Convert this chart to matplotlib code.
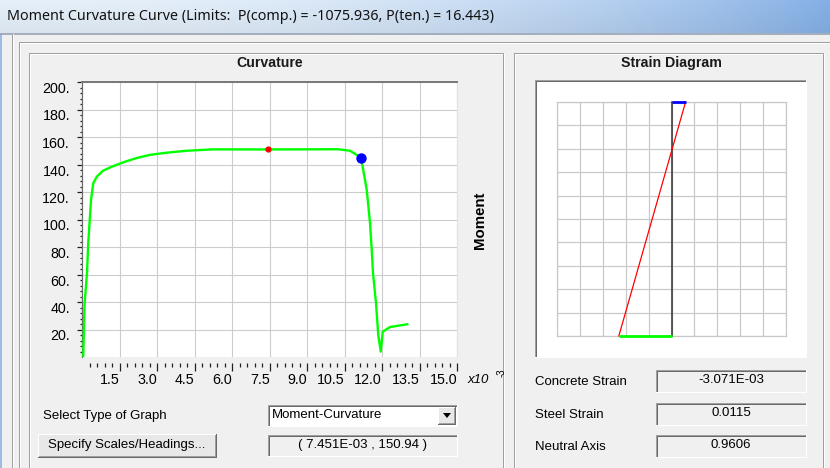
import matplotlib.pyplot as plt
import numpy as np
from matplotlib.patches import Rectangle, Polygon
from matplotlib.ticker import FixedLocator

W, H = 830, 468

# moment-curvature curve (curvature in units of 1e-3)
curvature = [0.05, 0.10, 0.20, 0.25, 0.36, 0.45, 0.59, 0.84, 1.12, 1.39, 1.72,
             2.20, 2.72, 3.39, 4.19, 5.24, 7.451, 10.24, 10.72, 11.16, 11.25,
             11.39, 11.52, 11.59, 11.64, 11.76, 11.85, 11.95, 12.03, 12.32, 13.01]
moment = [0.0, 38.0, 61.0, 83.0, 114.0, 126.3, 131.1, 135.5, 137.8, 139.8, 142.0,
          144.8, 147.0, 148.6, 150.0, 151.0, 150.94, 151.1, 150.0, 145.0, 136.0,
          121.5, 97.5, 77.8, 61.0, 39.3, 16.0, 3.9, 18.4, 21.8, 23.8]
cursor_pt = (7.451, 150.94)
current_idx = 19

x_ticks = [1.5, 3.0, 4.5, 6.0, 7.5, 9.0, 10.5, 12.0, 13.5, 15.0]
y_ticks = [20, 40, 60, 80, 100, 120, 140, 160, 180, 200]

# section strains
concrete_strain = -3.071e-3
steel_strain = 0.0115
neutral_axis = 0.9606

PX = 0.72  # one pixel in points at dpi 100
UI = 'Liberation Sans'
FS = 9.5

fig = plt.figure(figsize=(W / 100, H / 100), dpi=100, facecolor='#f0f0f0')
bg = fig.add_axes([0, 0, 1, 1])
bg.set_xlim(0, W)
bg.set_ylim(H, 0)
bg.axis('off')

# title bar
t = np.linspace(0, 1, 200) ** 2.2
rows = np.linspace(0, 1, 20)[:, None]
left = np.array([0.90, 0.94, 0.98])
right = np.array([0.52, 0.69, 0.90])
grad = left + (right - left) * t[None, :, None]
grad = grad * (1.0 - 0.05 * rows[..., None])
bg.imshow(np.clip(grad, 0, 1), extent=(0, W, 33, 0), aspect='auto',
          interpolation='bilinear', zorder=0)
bg.plot([0, W], [33.5, 33.5], color='#8a9ab0', lw=1.5 * PX)
bg.text(7, 17, 'Moment Curvature Curve (Limits:  P(comp.) = -1075.936, P(ten.) = 16.443)',
        fontsize=10.3, family='Noto Sans', va='center', ha='left', color='#111111')
bg.add_patch(Rectangle((0, 34), 2, H - 34, color='#9dbbe3', lw=0))


def etched(x0, y0, x1, y1):
    bg.add_patch(Rectangle((x0 + 1, y0 + 1), x1 - x0, y1 - y0, fill=False, ec='white', lw=PX))
    bg.add_patch(Rectangle((x0, y0), x1 - x0, y1 - y0, fill=False, ec='#a0a0a0', lw=PX))


def sunken(x0, y0, x1, y1, face):
    bg.add_patch(Rectangle((x0, y0), x1 - x0, y1 - y0, color=face, lw=0))
    bg.plot([x0, x0, x1], [y1, y0, y0], color='#a0a0a0', lw=PX)
    bg.plot([x0 + 1, x0 + 1, x1 - 1], [y1 - 1, y0 + 1, y0 + 1], color='#696969', lw=PX)
    bg.plot([x0, x1, x1], [y1, y1, y0], color='white', lw=PX)


def raised(x0, y0, x1, y1, face='#e8e8e8'):
    bg.add_patch(Rectangle((x0, y0), x1 - x0, y1 - y0, color=face, lw=0))
    bg.plot([x0, x0, x1], [y1, y0, y0], color='white', lw=PX)
    bg.plot([x0, x1, x1], [y1, y1, y0], color='#696969', lw=PX)
    bg.plot([x0 + 1, x1 - 1, x1 - 1], [y1 - 1, y1 - 1, y0 + 1], color='#a0a0a0', lw=PX)


# dialog frames
bg.plot([12, 12], [34, H], color='#a0a0a0', lw=PX)
bg.plot([13, 13], [34, H], color='white', lw=PX)
bg.plot([19, 19, W], [H, 42, 42], color='#a0a0a0', lw=PX)
bg.plot([20, 20, W], [H, 43, 43], color='white', lw=PX)
etched(29, 53, 503, H + 5)
etched(514, 53, 823, H + 5)
bg.text(270, 63, 'Curvature', fontsize=10.2, weight='bold', family=UI,
        ha='center', va='center', color='#1a1a1a')
bg.text(671, 63, 'Strain Diagram', fontsize=10.2, weight='bold', family=UI,
        ha='center', va='center', color='#1a1a1a')

# moment-curvature plot
ax = fig.add_axes([82 / W, 1 - 357 / H, 375 / W, 275 / H])
ax.set_facecolor('white')
ax.plot(curvature, moment, color='#00ff00', lw=1.7, zorder=3)
ax.plot(*cursor_pt, 'o', color='#ff0000', ms=4.5, mec='none', zorder=4)
ax.plot(curvature[current_idx], moment[current_idx], 'o', color='#0000ff',
        ms=7.5, mec='none', zorder=4)
ax.set_xlim(0, 15)
ax.set_ylim(0, 200)
ax.set_xticks(x_ticks)
ax.set_xticklabels([f'{v:.1f}' for v in x_ticks])
ax.xaxis.set_minor_locator(FixedLocator(np.arange(1, 51) * 0.3))
ax.set_yticks(y_ticks)
ax.set_yticklabels([f'{v}.' for v in y_ticks])
ax.yaxis.set_minor_locator(FixedLocator(np.arange(1, 50) * 4))
ax.grid(True, which='major', color='#cccccc', lw=1.1 * PX)
ax.set_axisbelow(True)
ax.spines['bottom'].set_position(('outward', 4.5))
ax.spines['bottom'].set_visible(False)
ax.spines['left'].set_color('#6a6a6a')
ax.spines['left'].set_linewidth(1.2 * PX)
ax.spines['top'].set_color('#7a7a7a')
ax.spines['top'].set_linewidth(2 * PX)
ax.spines['right'].set_color('#e2e2e2')
ax.tick_params(axis='x', which='major', direction='out', length=5.8, width=0.9,
               color='#222222', pad=1, labelsize=10.3, labelfontfamily=UI)
ax.tick_params(axis='x', which='minor', direction='out', length=3, width=0.9,
               color='#222222')
ax.tick_params(axis='y', which='major', direction='out', length=3.6, width=0.9,
               color='#222222', pad=5, labelsize=10.3, labelfontfamily=UI)
ax.tick_params(axis='y', which='minor', direction='out', length=1.8, width=0.9,
               color='#222222')
for lbl in ax.get_xticklabels():
    lbl.set_horizontalalignment('right')
for lbl in ax.get_yticklabels():
    lbl.set_verticalalignment('top')

bg.text(468, 380, 'x10', fontsize=9.5, style='italic', family=UI, ha='left', va='center')
bg.text(502, 373, '-3', fontsize=7, family=UI, rotation=90, ha='center', va='center')
bg.text(480, 220, 'Moment', fontsize=10.8, weight='bold', family=UI, rotation=90,
        ha='center', va='center')

# strain diagram
sunken(535, 80, 806, 357, 'white')
depth = neutral_axis * (steel_strain - concrete_strain) / (-concrete_strain)
sx = fig.add_axes([557 / W, 1 - 336 / H, 229 / W, 234 / H])
sx.set_facecolor('white')
sx.set_xlim(-0.025, 0.025)
sx.set_ylim(0, depth)
sx.set_xticks(np.linspace(-0.025, 0.025, 11))
sx.set_yticks(np.linspace(0, depth, 11))
sx.tick_params(length=0, labelbottom=False, labelleft=False)
sx.grid(True, color='#c8c8c8', lw=1.2 * PX)
for s in sx.spines.values():
    s.set_color('#c8c8c8')
    s.set_linewidth(1.2 * PX)
sx.plot([0, 0], [0, depth], color='#303030', lw=1.1, clip_on=False, zorder=3)
sx.plot([-concrete_strain, -steel_strain], [depth, 0], color='#ff0000', lw=0.9,
        clip_on=False, zorder=4)
sx.plot([0, -concrete_strain], [depth, depth], color='#0000ff', lw=2, clip_on=False,
        zorder=5, solid_capstyle='butt')
sx.plot([0, -steel_strain], [0, 0], color='#00ff00', lw=2, clip_on=False, zorder=5,
        solid_capstyle='butt')

# strain readouts
readouts = [('Concrete Strain', '-3.071E-03', 370), ('Steel Strain', '0.0115', 403),
            ('Neutral Axis', '0.9606', 435)]
for label, value, y0 in readouts:
    bg.text(535, y0 + 12, label, fontsize=FS, family=UI, ha='left', va='center')
    sunken(656, y0, 806, y0 + 22, '#f0f0f0')
    bg.text(731, y0 + 10, value, fontsize=FS, family=UI, ha='center', va='center')

# graph controls
bg.text(43, 416, 'Select Type of Graph', fontsize=FS, family=UI, ha='left', va='center')
sunken(268, 405, 457, 426, 'white')
bg.text(272, 415, 'Moment-Curvature', fontsize=FS, family=UI, ha='left', va='center')
raised(438, 407, 455, 424)
bg.add_patch(Polygon([[443, 413], [451, 413], [447, 418]], closed=True, color='black', lw=0))

raised(38, 434, 216, 457)
bg.text(127, 445, 'Specify Scales/Headings...', fontsize=FS, family=UI,
        ha='center', va='center')
sunken(268, 435, 457, 456, '#f0f0f0')
bg.text(362, 445, '( 7.451E-03 , 150.94 )', fontsize=FS, family=UI,
        ha='center', va='center')

fig.savefig('out.png', dpi=100, facecolor=fig.get_facecolor())
